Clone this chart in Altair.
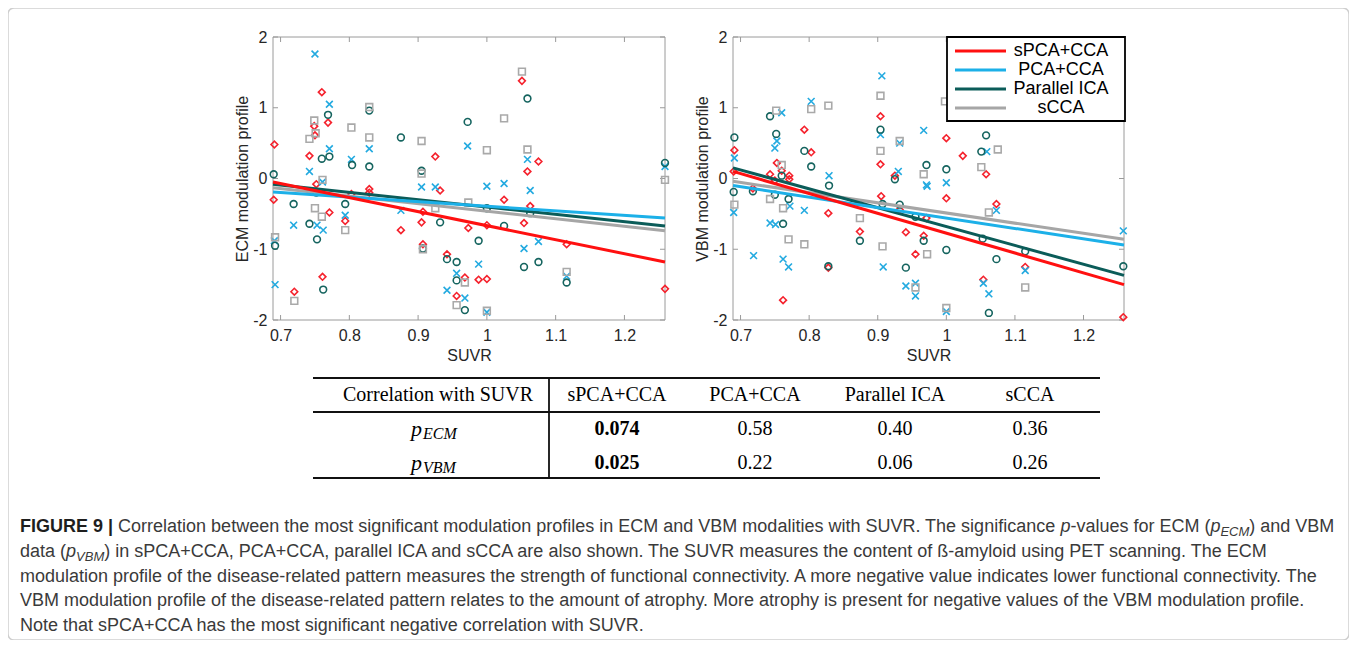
import altair as alt
import pandas as pd

W, H = 1341, 632
Y_TOP, Y_BOT = 29, 312
ECM_X = (265, 657)
VBM_X = (725, 1116)
AX = "#9a9a9a"
TXT = "#262626"
FONT = "Liberation Sans"
SERIF = "Liberation Serif"
CAP_FS = 18
SUB_FS = 13
CAP_COLOR = "#3a3a3a"

methods = ["sPCA+CCA", "PCA+CCA", "Parallel ICA", "sCCA"]
line_colors = ["#ff1010", "#1cb0e8", "#0b5c59", "#a6a6a6"]
marker_colors = ["#f5222d", "#23aae0", "#15645f", "#a9a9a9"]
marker_shapes = ["diamond", "M-1,-1L1,1M-1,1L1,-1", "circle", "square"]

suvr_ticks = [0.7, 0.8, 0.9, 1.0, 1.1, 1.2]
profile_ticks = [-2, -1, 0, 1, 2]
suvr_domain = [0.689, 1.259]
profile_domain = [-2, 2]

# ---- ECM panel: (SUVR, modulation profile)
ecm_spca = [(0.691, 0.48), (0.690, -0.30), (0.720, -1.60), (0.742, 0.32), (0.749, 0.74), (0.750, 0.61),
            (0.752, -0.08), (0.760, 1.22), (0.761, -1.39), (0.769, 0.79), (0.771, -0.48), (0.794, -0.60),
            (0.803, -0.22), (0.829, -0.15), (0.829, -0.20), (0.875, -0.73), (0.907, -0.47), (0.905, -0.62),
            (0.907, -0.93), (0.925, 0.31), (0.932, -0.17), (0.942, -1.07), (0.956, -1.66), (0.968, -1.40),
            (0.973, -0.70), (0.988, -1.43), (1.000, -1.42), (1.000, -0.66), (1.025, -0.30), (1.051, 1.38),
            (1.054, -0.63), (1.059, 0.10), (1.063, -0.39), (1.075, 0.24), (1.116, -0.93), (1.259, -1.56)]
ecm_pca = [(0.750, 1.76), (0.771, 1.05), (0.771, 0.42), (0.803, 0.27), (0.829, 0.42), (0.742, 0.10),
           (0.761, -0.05), (0.794, -0.52), (0.719, -0.66), (0.753, -0.66), (0.762, -0.73), (0.691, -0.88),
           (0.692, -1.50), (0.875, -0.45), (0.905, -0.12), (0.925, -0.12), (1.000, -0.11), (1.025, -0.07),
           (1.063, -0.17), (0.972, 0.46), (1.059, 0.27), (1.075, -0.89), (1.054, -0.99), (0.988, -1.21),
           (0.956, -1.34), (0.942, -1.58), (0.968, -1.69), (1.000, -1.89), (1.116, -1.38), (1.259, 0.17)]
ecm_pica = [(0.769, 0.90), (0.829, 0.96), (0.875, 0.58), (0.760, 0.28), (0.771, 0.31), (0.804, 0.19),
            (0.829, 0.17), (0.690, 0.06), (0.752, -0.20), (0.719, -0.36), (0.794, -0.36), (0.742, -0.64),
            (0.753, -0.86), (0.692, -0.95), (0.762, -1.57), (0.972, 0.80), (1.059, 1.13), (0.905, 0.11),
            (1.063, -0.49), (1.000, -0.42), (0.932, -0.62), (1.025, -0.67), (0.988, -0.88), (0.907, -0.99),
            (0.942, -1.14), (0.956, -1.18), (1.075, -1.18), (1.054, -1.25), (0.956, -1.44), (0.968, -1.86),
            (1.116, -1.47), (1.259, 0.22)]
ecm_scca = [(0.749, 0.82), (0.742, 0.56), (0.751, 0.64), (0.829, 1.01), (0.803, 0.72), (0.829, 0.58),
            (0.750, -0.42), (0.760, -0.54), (0.794, -0.73), (0.692, -0.83), (0.720, -1.73), (0.905, 0.53),
            (1.000, 0.40), (1.059, 0.41), (1.025, 0.85), (1.051, 1.51), (0.905, 0.07), (0.973, -0.34),
            (0.925, -0.42), (0.907, -1.00), (0.968, -1.47), (0.956, -1.79), (1.000, -1.87), (1.116, -1.32),
            (1.259, -0.02), (0.761, -0.02)]
ecm_fit_start = [-0.05, -0.19, -0.08, -0.13]
ecm_fit_end = [-1.18, -0.56, -0.67, -0.74]

# ---- VBM panel
vbm_spca = [(0.904, 0.88), (0.904, 0.20), (0.691, 0.40), (0.690, 0.10), (0.753, 0.22), (0.760, 0.11),
            (0.743, 0.06), (0.771, 0.04), (0.771, -0.01), (0.750, -0.03), (0.793, 0.69), (0.803, 0.37),
            (0.925, 0.04), (1.000, 0.57), (1.024, 0.32), (1.058, 0.06), (0.718, -0.14), (0.762, -1.72),
            (0.828, -0.49), (0.828, -1.26), (0.874, -0.75), (0.905, -0.25), (0.932, -0.44), (1.000, -0.28),
            (1.073, -0.36), (0.971, -0.56), (0.941, -0.76), (0.967, -0.81), (0.955, -1.07), (1.115, -1.25),
            (1.054, -1.43), (1.258, -1.96)]
vbm_pca = [(0.906, 1.45), (0.904, 0.62), (0.691, 0.29), (0.760, 0.93), (0.753, 0.53), (0.750, 0.43),
           (0.803, 1.09), (0.829, 0.04), (0.930, 0.10), (0.932, 0.50), (0.967, 0.68), (1.059, 0.38),
           (0.971, -0.09), (1.000, -0.06), (0.690, -0.48), (0.772, -0.39), (0.743, -0.63), (0.751, -0.65),
           (0.793, -0.45), (0.719, -1.09), (0.762, -1.14), (0.770, -1.25), (0.908, -1.25), (0.972, -0.11),
           (1.073, -0.45), (1.115, -1.30), (0.941, -1.52), (0.955, -1.48), (0.955, -1.66), (1.054, -1.48),
           (1.062, -1.63), (1.000, -1.88), (1.258, -0.74)]
vbm_pica = [(0.904, 0.69), (0.691, 0.58), (0.743, 0.88), (0.752, 0.63), (0.760, 0.04), (0.793, 0.39),
            (0.803, 0.17), (0.829, -0.10), (0.925, -0.01), (1.058, 0.61), (1.051, 0.38), (0.971, 0.19),
            (1.000, 0.13), (0.690, -0.19), (0.718, -0.18), (0.750, -0.23), (0.770, -0.29), (0.762, -0.64),
            (0.828, -1.24), (0.874, -0.88), (0.907, -0.36), (0.932, -0.37), (0.955, -0.54), (0.967, -0.88),
            (1.000, -1.01), (1.053, -0.85), (1.073, -1.14), (1.115, -1.03), (0.941, -1.26), (1.062, -1.90),
            (1.258, -1.24)]
vbm_scca = [(0.904, 1.17), (0.904, 0.39), (0.752, 0.96), (0.760, 0.19), (0.803, 0.98), (0.828, 1.03),
            (0.998, 1.09), (0.932, 0.53), (1.075, 0.41), (1.051, 0.16), (0.967, 0.06), (0.691, -0.37),
            (0.743, -0.29), (0.762, -0.42), (0.770, -0.86), (0.793, -0.93), (0.874, -0.56), (0.907, -0.96),
            (1.062, -0.48), (0.972, -1.07), (1.115, -1.54), (0.955, -1.54), (1.000, -1.83)]
vbm_fit_start = [0.10, -0.10, 0.15, -0.04]
vbm_fit_end = [-1.50, -0.94, -1.37, -0.86]

# ---- table
table_header = ["Correlation with SUVR", "sPCA+CCA", "PCA+CCA", "Parallel ICA", "sCCA"]
row_subscripts = ["ECM", "VBM"]
p_ecm = ["0.074", "0.58", "0.40", "0.36"]
p_vbm = ["0.025", "0.22", "0.06", "0.26"]

# ---- caption (segments: text, style)
cap1 = [("FIGURE 9 |", "bold"), (" ", "space"),
        ("Correlation between the most significant modulation profiles in ECM and VBM modalities with SUVR. The significance", "reg"),
        (" ", "space"), ("p", "it"), ("-values for ECM (", "reg"), ("p", "it"), ("ECM", "sub"), (") and VBM", "reg")]
cap2 = [("data (", "reg"), ("p", "it"), ("VBM", "sub"),
        (") in sPCA+CCA, PCA+CCA, parallel ICA and sCCA are also shown. The SUVR measures the content of ß-amyloid using PET scanning. The ECM", "reg")]
cap_rest = ["modulation profile of the disease-related pattern measures the strength of functional connectivity. A more negative value indicates lower functional connectivity. The",
            "VBM modulation profile of the disease-related pattern relates to the amount of atrophy. More atrophy is present for negative values of the VBM modulation profile.",
            "Note that sPCA+CCA has the most significant negative correlation with SUVR."]

# Arial / Liberation Sans advance widths (per 1000 em) used to chain caption segments
_chars = "abcdefghijklmnopqrstuvwxyzABCDEFGHIJKLMNOPQRSTUVWXYZ0123456789 ,.()-+|ß"
_w = [556, 556, 500, 556, 556, 278, 556, 556, 222, 222, 500, 222, 833, 556, 556, 556, 556, 333, 500, 278,
      556, 500, 722, 500, 500, 500,
      667, 667, 722, 722, 667, 611, 778, 722, 278, 500, 667, 556, 833, 722, 778, 667, 778, 722, 667, 611,
      722, 667, 944, 667, 667, 611,
      556, 556, 556, 556, 556, 556, 556, 556, 556, 556, 278, 278, 278, 333, 333, 333, 584, 260, 611]
WID = dict(zip(_chars, _w))
_bold = dict(zip("FIGURE 9|", [611, 278, 778, 722, 722, 667, 278, 556, 280]))

one = pd.DataFrame({"k": [0]})


def text_width(s, size, style):
    table = _bold if style == "bold" else WID
    return sum(table.get(c, 556) for c in s) * size / 1000.0


def points_df(groups):
    rows = []
    for m, pts in zip(methods, groups):
        for s, v in pts:
            rows.append({"method": m, "suvr": s, "value": v})
    return pd.DataFrame(rows)


def fit_df(starts, ends):
    rows = []
    for m, a, b in list(zip(methods, starts, ends))[::-1]:
        rows.append({"method": m, "suvr": suvr_domain[0], "value": a})
        rows.append({"method": m, "suvr": suvr_domain[1], "value": b})
    return pd.DataFrame(rows)


def panel(groups, starts, ends, xr, title, legend=False):
    x0, x1 = xr
    xs = alt.Scale(domain=suvr_domain, range=[x0, x1], nice=False, zero=False)
    ys = alt.Scale(domain=profile_domain, range=[Y_BOT, Y_TOP], nice=False, zero=False)
    layers = []
    box = alt.Chart(pd.DataFrame({"a": [suvr_domain[0]], "b": [suvr_domain[1]],
                                  "c": [profile_domain[0]], "d": [profile_domain[1]]})).mark_rect(
        fill="white", stroke=AX, strokeWidth=1).encode(
        x=alt.X("a:Q", scale=xs, axis=None), x2="b:Q",
        y=alt.Y("c:Q", scale=ys, axis=None), y2="d:Q")
    layers.append(box)
    tx = pd.DataFrame({"t": suvr_ticks})
    ty = pd.DataFrame({"t": profile_ticks})
    layers.append(alt.Chart(tx).mark_rule(color=AX, strokeWidth=1).encode(
        x=alt.X("t:Q", scale=xs, axis=None), y=alt.value(Y_BOT), y2=alt.value(Y_BOT - 5)))
    layers.append(alt.Chart(tx).mark_rule(color=AX, strokeWidth=1).encode(
        x=alt.X("t:Q", scale=xs, axis=None), y=alt.value(Y_TOP), y2=alt.value(Y_TOP + 5)))
    layers.append(alt.Chart(ty).mark_rule(color=AX, strokeWidth=1).encode(
        y=alt.Y("t:Q", scale=ys, axis=None), x=alt.value(x0), x2=alt.value(x0 + 5)))
    layers.append(alt.Chart(ty).mark_rule(color=AX, strokeWidth=1).encode(
        y=alt.Y("t:Q", scale=ys, axis=None), x=alt.value(x1), x2=alt.value(x1 - 5)))
    pts = alt.Chart(points_df(groups)).mark_point(filled=False, strokeWidth=1.6, size=46, opacity=1).encode(
        x=alt.X("suvr:Q", scale=xs, axis=alt.Axis(
            orient="bottom", offset=Y_BOT - H, values=suvr_ticks, labelExpr="'' + datum.value",
            title="SUVR", domain=False, ticks=False, tickSize=0, labelPadding=7, titlePadding=4)),
        y=alt.Y("value:Q", scale=ys, axis=alt.Axis(
            orient="left", offset=-x0, values=profile_ticks, labelExpr="'' + datum.value",
            title=title, domain=False, ticks=False, tickSize=0, labelPadding=6, titlePadding=2)),
        color=alt.Color("method:N", scale=alt.Scale(domain=methods, range=marker_colors), legend=None),
        shape=alt.Shape("method:N", scale=alt.Scale(domain=methods, range=marker_shapes), legend=None),
    )
    layers.append(pts)
    lines = alt.Chart(fit_df(starts, ends)).mark_line(strokeWidth=3).encode(
        x=alt.X("suvr:Q", scale=xs, axis=None),
        y=alt.Y("value:Q", scale=ys, axis=None),
        color=alt.Color("method:N", scale=alt.Scale(domain=methods, range=line_colors), legend=None),
    )
    layers.append(lines)
    if legend:
        leg_df = pd.DataFrame({"method": methods, "row": list(range(len(methods)))})
        leg_y = alt.Scale(domain=[0, 3], range=[43, 100])
        layers.append(alt.Chart(one).mark_rect(fill="white", stroke="black", strokeWidth=1.8).encode(
            x=alt.value(939), x2=alt.value(x1 + 1), y=alt.value(Y_TOP), y2=alt.value(113)))
        layers.append(alt.Chart(leg_df).mark_rule(strokeWidth=3).encode(
            x=alt.value(947), x2=alt.value(998),
            y=alt.Y("row:Q", scale=leg_y, axis=None),
            color=alt.Color("method:N", scale=alt.Scale(domain=methods, range=line_colors), legend=None)))
        layers.append(alt.Chart(leg_df).mark_text(font=FONT, fontSize=18, align="center", baseline="middle",
                                                  color="black").encode(
            x=alt.value(1053), y=alt.Y("row:Q", scale=leg_y, axis=None), text="method:N"))
    return layers


def txt(s, x, y, size=CAP_FS, color=CAP_COLOR, font=FONT, align="left", **kw):
    return alt.Chart(one).mark_text(align=align, baseline="middle", font=font, fontSize=size,
                                    color=color, **kw).encode(
        x=alt.value(x), y=alt.value(y), text=alt.value(s))


def caption_line(segments, x, y):
    out = []
    for s, style in segments:
        if style == "space":
            x += text_width(s, CAP_FS, "reg")
            continue
        if style == "bold":
            out.append(txt(s, x, y, fontWeight="bold", color="#1e1e1e"))
            x += text_width(s, CAP_FS, "bold")
        elif style == "it":
            out.append(txt(s, x, y, fontStyle="italic"))
            x += text_width(s, CAP_FS, "reg")
        elif style == "sub":
            out.append(txt(s, x, y + 5, size=SUB_FS, fontStyle="italic"))
            x += text_width(s, SUB_FS, "reg")
        else:
            out.append(txt(s, x, y))
            x += text_width(s, CAP_FS, "reg")
    return out


def hrule(y, w=1.8):
    return alt.Chart(one).mark_rule(color="#111111", strokeWidth=w).encode(
        x=alt.value(305), x2=alt.value(1092), y=alt.value(y))


layers = []
layers += panel([ecm_spca, ecm_pca, ecm_pica, ecm_scca], ecm_fit_start, ecm_fit_end, ECM_X,
                "ECM modulation profile")
layers += panel([vbm_spca, vbm_pca, vbm_pica, vbm_scca], vbm_fit_start, vbm_fit_end, VBM_X,
                "VBM modulation profile", legend=True)

# table
tab_x = alt.Scale(domain=[0, 1, 2, 3, 4], range=[430, 609, 747, 887, 1022])
tab_y = alt.Scale(domain=[0, 1, 2], range=[387, 421, 455])
layers += [hrule(370), hrule(404), hrule(470)]
layers.append(alt.Chart(one).mark_rule(color="#111111", strokeWidth=1.8).encode(
    x=alt.value(541), y=alt.value(370), y2=alt.value(470)))
hdr = pd.DataFrame({"col": list(range(5)), "row": [0] * 5, "label": table_header})
layers.append(alt.Chart(hdr).mark_text(font=SERIF, fontSize=20, baseline="middle", color="black").encode(
    x=alt.X("col:Q", scale=tab_x, axis=None), y=alt.Y("row:Q", scale=tab_y, axis=None), text="label:N"))
vals = pd.DataFrame({"col": [1, 2, 3, 4] * 2, "row": [1] * 4 + [2] * 4, "label": p_ecm + p_vbm})
layers.append(alt.Chart(vals[vals.col > 1]).mark_text(font=SERIF, fontSize=20, baseline="middle",
                                                     color="black").encode(
    x=alt.X("col:Q", scale=tab_x, axis=None), y=alt.Y("row:Q", scale=tab_y, axis=None), text="label:N"))
layers.append(alt.Chart(vals[vals.col == 1]).mark_text(font=SERIF, fontSize=20, baseline="middle",
                                                      fontWeight="bold", color="black").encode(
    x=alt.X("col:Q", scale=tab_x, axis=None), y=alt.Y("row:Q", scale=tab_y, axis=None), text="label:N"))
rl = pd.DataFrame({"col": [0, 0], "row": [1, 2], "sub": row_subscripts})
layers.append(alt.Chart(rl).mark_text(font=SERIF, fontSize=22, fontStyle="italic", baseline="middle",
                                      align="left", dx=-27, color="black").encode(
    x=alt.X("col:Q", scale=tab_x, axis=None), y=alt.Y("row:Q", scale=tab_y, axis=None), text=alt.value("p")))
layers.append(alt.Chart(rl).mark_text(font=SERIF, fontSize=16, fontStyle="italic", baseline="middle",
                                      align="left", dx=-15, dy=5, color="black").encode(
    x=alt.X("col:Q", scale=tab_x, axis=None), y=alt.Y("row:Q", scale=tab_y, axis=None), text="sub:N"))

# caption
cy = [519, 544, 569, 593, 618]
layers += caption_line(cap1, 12, cy[0])
layers += caption_line(cap2, 12, cy[1])
for i, line in enumerate(cap_rest):
    layers.append(txt(line, 12, cy[2 + i]))

chart = alt.layer(*layers).resolve_scale(
    x="independent", y="independent", color="independent", shape="independent"
).properties(
    width=W, height=H, autosize=alt.AutoSizeParams(type="none"), padding=0, background="white"
).configure_view(
    stroke="#cfcfcf", strokeWidth=1.5, cornerRadius=6
).configure_axis(
    labelFont=FONT, titleFont=FONT, labelFontSize=16, titleFontSize=16, labelColor=TXT,
    titleColor=TXT, titleFontWeight="normal", grid=False
)

chart.save("out.html", embed_options={"renderer": "svg", "actions": False})
